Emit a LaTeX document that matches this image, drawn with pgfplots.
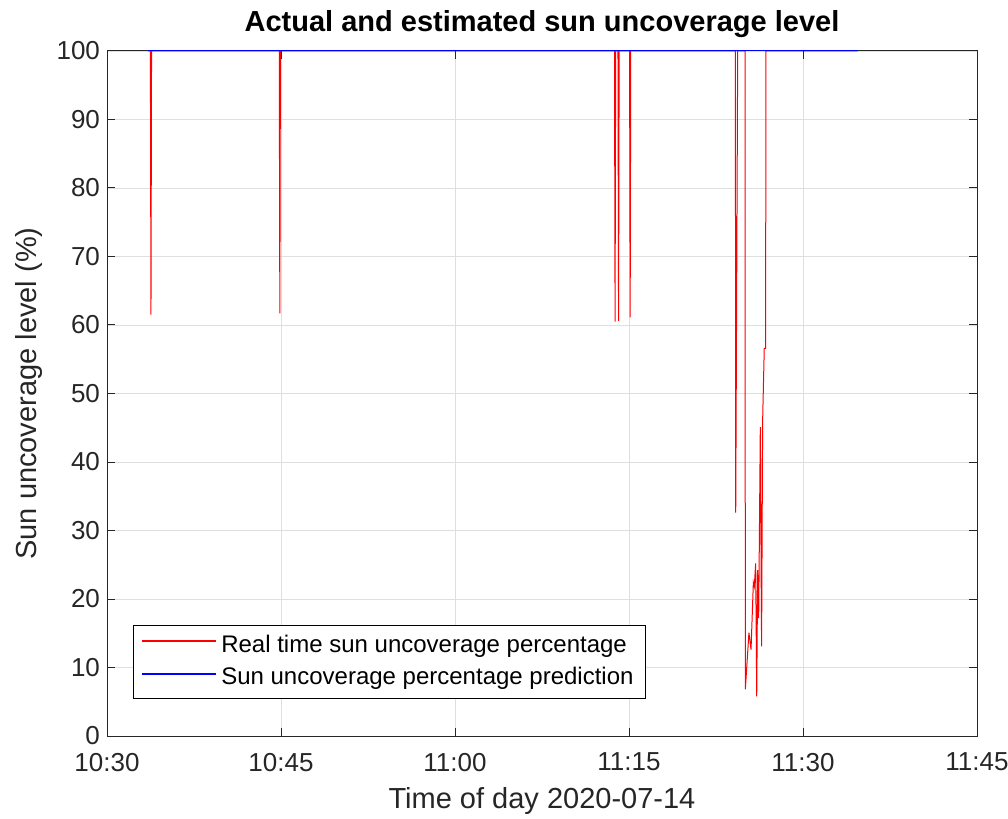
\documentclass[border=0pt]{standalone}
\usepackage{pgfplots}
\pgfplotsset{compat=1.18}
\usepackage{fontspec}
\setmainfont{Liberation Sans}
\definecolor{mlgray}{rgb}{0.15,0.15,0.15}
\begin{document}
\begin{tikzpicture}
\begin{axis}[
    scale only axis, width=435pt, height=342.5pt,
    xmin=0, xmax=75, ymin=0, ymax=100,
    xtick={0,15,30,45,60,75},
    xticklabels={10:30,10:45,11:00,11:15,11:30,11:45},
    ytick={0,10,...,100},
    tick align=inside, tick pos=both,
    major tick length=4pt,
    axis line style={mlgray, line width=0.5pt},
    every tick/.style={mlgray, line width=0.5pt},
    grid=major, grid style={gray!25, line width=0.4pt},
    ticklabel style={font=\fontsize{13}{15}\selectfont, text=mlgray},
    xticklabel style={yshift=-5pt},
    /pgf/number format/assume math mode=true,
    xlabel={Time of day 2020-07-14},
    ylabel={Sun uncoverage level (\%)},
    label style={font=\fontsize{14.5}{17}\selectfont, text=mlgray},
    xlabel style={yshift=-1pt},
    ylabel style={yshift=0pt},
    title={\bfseries Actual and estimated sun uncoverage level},
    title style={font=\fontsize{14.5}{17}\selectfont, yshift=-3pt},
    legend style={at={(0.03,0.055)}, anchor=south west, font=\fontsize{12}{14}\selectfont,
        inner xsep=4pt, inner ysep=3pt, row sep=2pt},
    legend cell align=left,
    legend image code/.code={\draw[#1, line width=0.9pt] (0pt,2pt) -- (37pt,2pt);},
]
\addplot[red, line width=0.5pt] coordinates {
 (3.5,100) (3.74,100) (3.79,61.5) (3.84,100)
 (14.85,100) (14.9,61.7) (14.95,100)
 (43.75,100) (43.8,60.5) (43.85,100)
 (44.05,100) (44.1,60.6) (44.15,100)
 (45.05,100) (45.1,61.1) (45.15,100)
 (54.17,100) (54.2,32.6) (54.37,100)
 (55.0,100) (55.03,6.8) (55.34,15.1) (55.52,12.6) (55.72,22.4) (55.80,21.8)
 (55.92,25.2) (56.01,5.8) (56.09,24.2) (56.18,17.2) (56.32,45.1) (56.43,13.1)
 (56.52,46) (56.66,56.6) (56.78,56.6) (56.8,100) (64.7,100)
};
\addlegendentry{Real time sun uncoverage percentage}
\addplot[blue, line width=0.5pt] coordinates {(3.5,100) (64.7,100)};
\addlegendentry{Sun uncoverage percentage prediction}
\end{axis}
\pgfresetboundingbox
\path[use as bounding box] ([xshift=-53.5pt,yshift=-41pt]current axis.south west) rectangle ([xshift=15.5pt,yshift=25.5pt]current axis.north east);
\end{tikzpicture}
\end{document}
